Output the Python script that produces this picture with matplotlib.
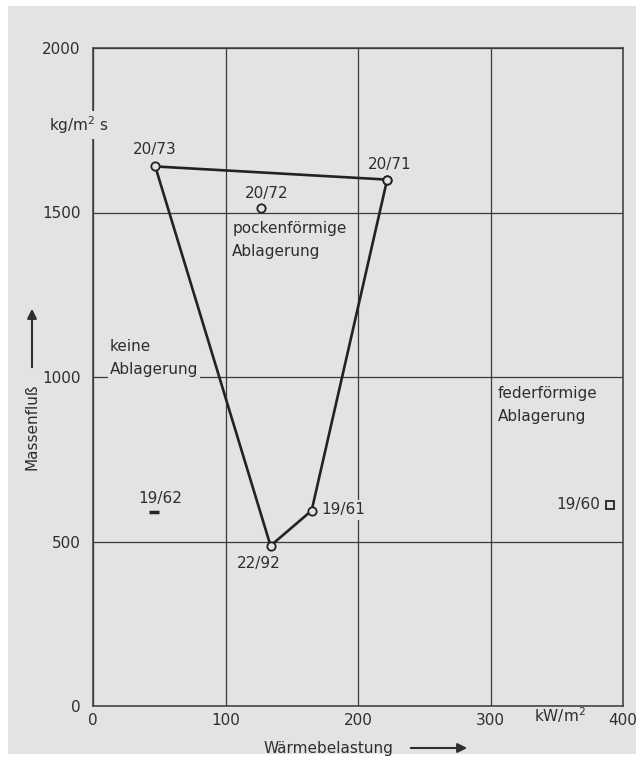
import matplotlib
matplotlib.use("Agg")
import matplotlib.pyplot as plt
from matplotlib.patches import Rectangle, FancyArrowPatch

# ---- data ----
loop_labels = ["20/71", "20/73", "22/92", "19/61", "20/71"]
loop_x = [222, 47, 134, 165, 222]
loop_y = [1600, 1640, 487, 594, 1600]

single_label = "20/72"
single_x = [127]
single_y = [1515]

dash_label = "19/62"
dash_x = [46]
dash_y = [590]

square_label = "19/60"
square_x = [390]
square_y = [611]

x_ticks = [0, 100, 200, 300, 400]
y_ticks = [0, 500, 1000, 1500, 2000]

BG = "#e3e3e1"
INK = "#2e2e2e"
FS = 11

fig = plt.figure(figsize=(6.4, 7.64), dpi=100)
fig.patch.set_facecolor("white")
fig.patches.append(Rectangle((8/640, 10/764), 628/640, 748/764, transform=fig.transFigure,
                             facecolor=BG, edgecolor="none", zorder=-10))

ax = fig.add_axes([93/640, 1-706/764, 530/640, 658/764])
ax.set_facecolor(BG)
ax.set_xlim(0, 400)
ax.set_ylim(0, 2000)
ax.set_xticks(x_ticks)
ax.set_xticklabels([str(v) for v in x_ticks])
ax.set_yticks(y_ticks)
ax.set_yticklabels([str(v) for v in y_ticks])
ax.tick_params(length=0, labelsize=FS, colors=INK)
ax.tick_params(axis="x", pad=5)
ax.tick_params(axis="y", pad=9)
for s in ax.spines.values():
    s.set_color("#3a3a3a")
    s.set_linewidth(1.1)
ax.grid(True, color="#3a3a3a", linewidth=0.9)
ax.set_axisbelow(True)

# data lines and markers
ax.plot(loop_x, loop_y, color="#222222", linewidth=1.9, zorder=3,
        marker="o", markersize=6, markerfacecolor=BG, markeredgecolor="#222222",
        markeredgewidth=1.3)
ax.plot(single_x, single_y, linestyle="none", marker="o", markersize=6,
        markerfacecolor=BG, markeredgecolor="#222222", markeredgewidth=1.3, zorder=3)
ax.plot(dash_x, dash_y, linestyle="none", marker="_", markersize=7,
        markeredgewidth=2.5, color="#222222", zorder=3)
ax.plot(square_x, square_y, linestyle="none", marker="s", markersize=6,
        markerfacecolor=BG, markeredgecolor="#222222", markeredgewidth=1.3, zorder=3)

bbox = dict(facecolor=BG, edgecolor="none", pad=1.5)
# point labels
ax.text(loop_x[1] - 0.5, loop_y[1] + 50, loop_labels[1], ha="center", va="center", fontsize=FS, color=INK)
ax.text(loop_x[0] + 2, loop_y[0] + 45, loop_labels[0], ha="center", va="center", fontsize=FS, color=INK)
ax.text(loop_x[2] - 9, loop_y[2] - 55, loop_labels[2], ha="center", va="center", fontsize=FS, color=INK)
ax.text(loop_x[3] + 24, loop_y[3] + 2, loop_labels[3], ha="center", va="center", fontsize=FS, color=INK, bbox=bbox, zorder=4)
ax.text(single_x[0] + 4, single_y[0] + 44, single_label, ha="center", va="center", fontsize=FS, color=INK)
ax.text(dash_x[0] + 5, dash_y[0] + 42, dash_label, ha="center", va="center", fontsize=FS, color=INK)
ax.text(square_x[0] - 24, square_y[0], square_label, ha="center", va="center", fontsize=FS, color=INK)

# region labels
ax.text(105, 1450, "pockenförmige", ha="left", va="center", fontsize=FS, color=INK)
ax.text(105, 1380, "Ablagerung", ha="left", va="center", fontsize=FS, color=INK)
ax.text(12.8, 1094, "keine", ha="left", va="center", fontsize=FS, color=INK)
ax.text(12.8, 1024, "Ablagerung", ha="left", va="center", fontsize=FS, color=INK, bbox=bbox, zorder=2)
ax.text(305.7, 951, "federförmige", ha="left", va="center", fontsize=FS, color=INK)
ax.text(305.7, 881, "Ablagerung", ha="left", va="center", fontsize=FS, color=INK)

# units
fig.text(79/640, 1-125/764, r"kg/m$^{2}$ s", ha="center", va="center", fontsize=FS, color=INK,
         bbox=dict(facecolor=BG, edgecolor="none", pad=2), zorder=5)
fig.text(560/640, 1-715/764, r"kW/m$^{2}$", ha="center", va="center", fontsize=FS, color=INK)

# axis titles with arrows
fig.text(32/640, 1-427/764, "Massenfluß", rotation=90, ha="center", va="center", fontsize=FS, color=INK)
fig.text(328/640, 1-749/764, "Wärmebelastung", ha="center", va="center", fontsize=FS, color=INK)
fig.add_artist(FancyArrowPatch((32/640, 1-370/764), (32/640, 1-306/764),
               transform=fig.transFigure, arrowstyle="-|>", mutation_scale=14,
               color=INK, linewidth=1.5))
fig.add_artist(FancyArrowPatch((408/640, 1-748/764), (470/640, 1-748/764),
               transform=fig.transFigure, arrowstyle="-|>", mutation_scale=14,
               color=INK, linewidth=1.5))

fig.savefig("out.png", dpi=100, facecolor=fig.get_facecolor())
